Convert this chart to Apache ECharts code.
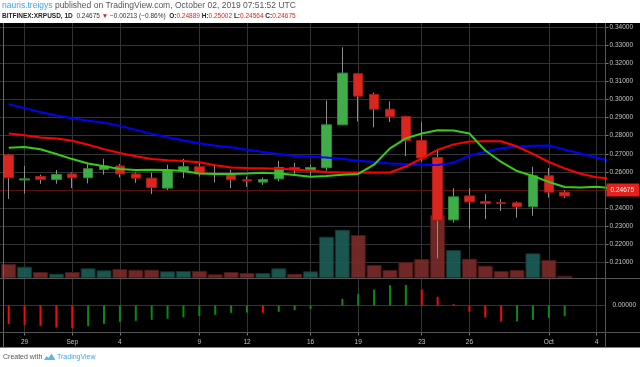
<!DOCTYPE html>
<html><head><meta charset="utf-8">
<script src="https://cdn.jsdelivr.net/npm/echarts@6/dist/echarts.min.js"></script>
<style>html,body{margin:0;padding:0;background:#fff}#c{width:640px;height:367px}</style>
</head><body><div id="c"></div>
<script>
// ---- data (daily, BITFINEX:XRPUSD) ----
const dates = ['Aug 28','Aug 29','Aug 30','Aug 31','Sep 1','Sep 2','Sep 3','Sep 4','Sep 5','Sep 6','Sep 7','Sep 8','Sep 9','Sep 10','Sep 11','Sep 12','Sep 13','Sep 14','Sep 15','Sep 16','Sep 17','Sep 18','Sep 19','Sep 20','Sep 21','Sep 22','Sep 23','Sep 24','Sep 25','Sep 26','Sep 27','Sep 28','Sep 29','Sep 30','Oct 1','Oct 2','Oct 3','Oct 4','Oct 5'];
const candleOpen  = [0.2694,0.2556,0.2575,0.2559,0.2589,0.2568,0.2614,0.2633,0.2589,0.2566,0.2511,0.2607,0.2629,0.2592,0.2589,0.2557,0.2544,0.2562,0.2625,0.2611,0.2623,0.2860,0.3142,0.3027,0.2946,0.2906,0.2773,0.2680,0.2336,0.2468,0.2437,0.2431,0.2430,0.2409,0.2579,0.24889];
const candleClose = [0.2568,0.2562,0.2559,0.2586,0.2568,0.2618,0.2633,0.2589,0.2566,0.2514,0.2608,0.2629,0.2589,0.2585,0.2557,0.2550,0.2559,0.2625,0.2611,0.2625,0.2860,0.3145,0.3018,0.2946,0.2906,0.2773,0.2677,0.2334,0.2463,0.2435,0.2426,0.2426,0.2409,0.2579,0.24888,0.24675];
const candleLow   = [0.2451,0.2481,0.2535,0.2535,0.2511,0.2537,0.2585,0.2570,0.2540,0.2478,0.2500,0.2566,0.2575,0.2542,0.2511,0.2518,0.2529,0.2548,0.2589,0.2574,0.2606,0.2858,0.2878,0.2846,0.2875,0.2688,0.2657,0.2124,0.2321,0.2288,0.2340,0.2385,0.2348,0.2358,0.2459,0.24564];
const candleHigh  = [0.2700,0.2633,0.2585,0.2611,0.2597,0.2647,0.2673,0.2644,0.2597,0.2597,0.2640,0.2672,0.2657,0.2644,0.2611,0.2575,0.2570,0.2662,0.2651,0.2640,0.2994,0.3287,0.3145,0.3038,0.2989,0.2910,0.2874,0.2728,0.2511,0.2511,0.2478,0.2450,0.2437,0.2629,0.2622,0.25002];
const volume = [14.3,11.6,6.3,4.6,6.3,10.0,8.0,9.3,8.6,8.6,7.0,7.3,7.5,4.0,6.3,5.3,5.3,10.0,4.6,7.0,41.6,48.6,43.3,13.3,8.3,16.3,19.3,63.3,28.3,19.6,12.6,7.3,8.3,25.0,18.3,2.6];
// Alligator (displaced into the future)
const jaw   = [0.2974,0.2952,0.2930,0.2911,0.2896,0.2882,0.2872,0.2854,0.2832,0.2810,0.2791,0.2773,0.2758,0.2745,0.2736,0.2723,0.2710,0.2699,0.2688,0.2684,0.2680,0.2671,0.2662,0.2655,0.2647,0.2644,0.2638,0.2638,0.2651,0.2690,0.2712,0.2731,0.2741,0.2745,0.2746,0.2723,0.2702,0.2680,0.2656];
const teeth = [0.2812,0.2803,0.2790,0.2785,0.2772,0.2750,0.2726,0.2705,0.2687,0.2672,0.2665,0.2661,0.2654,0.2637,0.2625,0.2622,0.2620,0.2618,0.2614,0.2607,0.2600,0.2597,0.2597,0.2597,0.2597,0.2630,0.2675,0.2722,0.2752,0.2768,0.2769,0.2769,0.2740,0.2700,0.2655,0.2620,0.2590,0.2571,0.2563];
const lips  = [0.2734,0.2738,0.2725,0.2699,0.2671,0.2647,0.2631,0.2616,0.2611,0.2612,0.2611,0.2605,0.2592,0.2589,0.2589,0.2592,0.2596,0.2592,0.2583,0.2574,0.2578,0.2585,0.2589,0.2640,0.2730,0.2785,0.2812,0.2830,0.2828,0.2812,0.2718,0.2655,0.2605,0.2578,0.2545,0.2517,0.2514,0.2518,0.2510];
// Awesome Oscillator
const ao = [-0.00736,-0.00772,-0.00812,-0.00880,-0.00908,-0.00828,-0.00732,-0.00652,-0.00612,-0.00572,-0.00532,-0.00468,-0.00428,-0.00372,-0.00292,-0.00280,-0.00292,-0.00252,-0.00188,-0.00132,-0.00012,0.00268,0.00468,0.00640,0.00812,0.00824,0.00640,0.00348,0.00052,-0.00252,-0.00480,-0.00640,-0.00632,-0.00572,-0.00492,-0.00428];
// tick labels
const dateTickIdx  = [1,4,7,12,15,19,22,26,29,34,37];
const dateTickText = ['29','Sep','4','9','12','16','19','23','26','Oct','4'];
const priceMin = 0.20, priceStep = 0.01;

// ---- build ----
const n = candleOpen.length;
const lastClose = candleClose[n-1], prevClose = candleClose[n-2];
const chg = lastClose - prevClose;
const pct = chg / prevClose * 100;
const fmtSigned = v => (v < 0 ? '\u2212' : '+') + Math.abs(v).toFixed(5);

const UP = '#3fae49', UPB = '#2b8a35', DN = '#d9261f', DNB = '#a81b15';
const candleData = candleOpen.map((o,i)=>[i,o,candleClose[i],candleLow[i],candleHigh[i]]);
const bodyData = candleOpen.map((o,i)=>[i,o,candleClose[i],Math.min(o,candleClose[i]),Math.max(o,candleClose[i])]);
const volData = volume.map((v,i)=>{
  const up = candleClose[i] >= candleOpen[i];
  return {value:[i,v], itemStyle:{color: up?'#1d5c57':'#782b29', borderColor: up?'#0f3533':'#4a1817'}};
});
const aoData = ao.map((v,i)=>{
  const up = i>0 && v >= ao[i-1];
  return {value:[i,v], itemStyle:{color: up?'#0a8a14':'#f20d0d'}};
});
const lineData = arr => arr.map((v,i)=>[i,v]);

const X_MIN = -0.5477, X_MAX = 37.567;
const AXC = '#c4c4c4', GRIDC = '#333333', SEP = '#555';
const FONT = 'Liberation Sans';
const noLine = {show:false,onZero:false};
const vGrid = {silent:true,z:0,symbol:['none','none'],animation:false,label:{show:false},
  lineStyle:{color:GRIDC,width:1,type:'solid'},emphasis:{disabled:true},
  data:dateTickIdx.map(v=>({xAxis:v}))};

const chart = echarts.init(document.getElementById('c'));
chart.setOption({
  animation:false,
  backgroundColor:'#000',
  textStyle:{fontFamily:FONT},
  grid:[
    {left:0,right:34.5,top:23,bottom:86.2},
    {left:0,right:34.5,top:23,bottom:88.7},
    {left:0,right:34.5,top:278.5,bottom:34.5}
  ],
  xAxis:[
    {gridIndex:0,type:'value',min:X_MIN,max:X_MAX,axisLine:noLine,axisLabel:{show:false},axisTick:{show:false},splitLine:{show:false}},
    {gridIndex:1,type:'value',min:X_MIN,max:X_MAX,show:false,axisLine:noLine},
    {gridIndex:2,type:'value',min:X_MIN,max:X_MAX,axisLine:noLine,
     axisTick:{show:true,customValues:dateTickIdx,length:3,lineStyle:{color:'#777'}},
     axisLabel:{customValues:dateTickIdx,formatter:v=>dateTickText[dateTickIdx.indexOf(Math.round(v))],
       color:AXC,fontSize:6.5,margin:6,fontFamily:FONT},
     splitLine:{show:false}}
  ],
  yAxis:[
    {gridIndex:0,type:'value',position:'right',min:priceMin,max:0.34212,interval:priceStep,axisLine:noLine,
     axisTick:{show:true,length:3,lineStyle:{color:'#777'}},
     axisLabel:{formatter:v=>v.toFixed(5),color:AXC,fontSize:6.5,margin:4,fontFamily:FONT,showMinLabel:false,showMaxLabel:false},
     splitLine:{show:true,showMinLine:false,showMaxLine:false,lineStyle:{color:GRIDC,width:1}}},
    {gridIndex:1,type:'value',min:0,max:255.3,show:false,axisLine:noLine},
    {gridIndex:2,type:'value',position:'right',min:-0.0108,max:0.0108,interval:0.0108,axisLine:noLine,
     axisTick:{show:false},
     axisLabel:{formatter:v=>Math.abs(v)<1e-9?v.toFixed(5):'',color:AXC,fontSize:6.5,margin:7,fontFamily:FONT,showMinLabel:false,showMaxLabel:false},
     splitLine:{show:true,showMinLine:false,showMaxLine:false,lineStyle:{color:GRIDC,width:1}}}
  ],
  series:[
    {type:'bar',name:'Volume',xAxisIndex:1,yAxisIndex:1,barWidth:15,z:1,data:volData,itemStyle:{borderWidth:1,opacity:0.92}},
    {type:'candlestick',name:'wicks',xAxisIndex:0,yAxisIndex:0,z:2,barWidth:1,
     dimensions:['idx','open','close','lowest','highest'],encode:{x:'idx',y:['open','close','lowest','highest']},
     data:candleData,markLine:vGrid,
     itemStyle:{color:'#8e8e8e',color0:'#8e8e8e',borderColor:'#8e8e8e',borderColor0:'#8e8e8e',borderWidth:1}},
    {type:'candlestick',name:'XRPUSD',xAxisIndex:0,yAxisIndex:0,z:3,barWidth:10,
     dimensions:['idx','open','close','lowest','highest'],encode:{x:'idx',y:['open','close','lowest','highest']},
     data:bodyData,
     itemStyle:{color:UP,color0:DN,borderColor:UPB,borderColor0:DNB,borderWidth:1},
     markLine:{silent:true,z:0.5,symbol:['none','none'],animation:false,
       data:[{yAxis:lastClose}],
       lineStyle:{color:'#5a1010',width:1,type:'solid'},
       label:{show:true,position:'end',formatter:()=>lastClose.toFixed(5),color:'#fff',backgroundColor:'#e3211d',
         fontSize:6.5,padding:[3,5,3,4],distance:1,fontFamily:FONT}}},
    {type:'line',name:'Jaw',xAxisIndex:0,yAxisIndex:0,z:4,symbol:'none',data:lineData(jaw),lineStyle:{color:'#0000ff',width:2}},
    {type:'line',name:'Teeth',xAxisIndex:0,yAxisIndex:0,z:4,symbol:'none',data:lineData(teeth),lineStyle:{color:'#ff0000',width:2}},
    {type:'line',name:'Lips',xAxisIndex:0,yAxisIndex:0,z:4,symbol:'none',data:lineData(lips),lineStyle:{color:'#36cc18',width:2}},
    {type:'bar',name:'AO',xAxisIndex:2,yAxisIndex:2,barWidth:2,z:2,data:aoData,markLine:vGrid}
  ],
  graphic:[
    {type:'rect',shape:{x:0,y:0,width:640,height:23},style:{fill:'#fff'},z:50},
    {type:'rect',shape:{x:0,y:347.5,width:640,height:20},style:{fill:'#fff'},z:50},
    {type:'line',shape:{x1:3.5,y1:23,x2:3.5,y2:347.5},style:{stroke:'#666',lineWidth:1},z:50},
    {type:'line',shape:{x1:605.5,y1:23,x2:605.5,y2:347.5},style:{stroke:SEP,lineWidth:1},z:50},
    {type:'line',shape:{x1:0,y1:278.5,x2:640,y2:278.5},style:{stroke:SEP,lineWidth:1},z:50},
    {type:'line',shape:{x1:0,y1:332.5,x2:640,y2:332.5},style:{stroke:SEP,lineWidth:1},z:50},
    {type:'text',x:2,y:6,z:51,style:{
      text:'{a|nauris.treigys} {b|published on TradingView.com, October 02, 2019 07:51:52 UTC}',
      verticalAlign:'middle',font:'8.5px '+FONT,
      rich:{a:{fill:'#3ba6e0',fontSize:8.5,fontFamily:FONT},b:{fill:'#555',fontSize:8.5,fontFamily:FONT}}}},
    {type:'text',x:2,y:16,z:51,style:{
      text:'{k|BITFINEX:XRPUSD, 1D}  {n|'+lastClose.toFixed(5)+'} {r|\u25BC} {n|'+fmtSigned(chg)+' ('+(pct<0?'\u2212':'+')+Math.abs(pct).toFixed(2)+'%)}  '+
           '{k|O:}{v|'+candleOpen[n-1].toFixed(5)+'} {k|H:}{v|'+candleHigh[n-1].toFixed(5)+'} {k|L:}{v|'+candleLow[n-1].toFixed(5)+'} {k|C:}{v|'+lastClose.toFixed(5)+'}',
      verticalAlign:'middle',font:'6.5px '+FONT,
      rich:{k:{fill:'#222',fontSize:6.5,fontWeight:'bold',fontFamily:FONT},
            n:{fill:'#333',fontSize:6.5,fontFamily:FONT},
            r:{fill:'#e3211d',fontSize:6.5,fontFamily:FONT},
            v:{fill:'#e3211d',fontSize:6.5,fontFamily:FONT}}}},
    {type:'text',x:3,y:357.5,z:51,style:{text:'Created with',fill:'#555',font:'7px '+FONT,verticalAlign:'middle'}},
    {type:'polygon',z:51,shape:{points:[[44,360],[46.5,356],[48.5,358],[51.5,353.5],[55.5,360]]},style:{fill:'#5bb8e8'}},
    {type:'text',x:57,y:357.5,z:51,style:{text:'TradingView',fill:'#3ba6e0',font:'7px '+FONT,verticalAlign:'middle'}}
  ]
});
</script></body></html>
